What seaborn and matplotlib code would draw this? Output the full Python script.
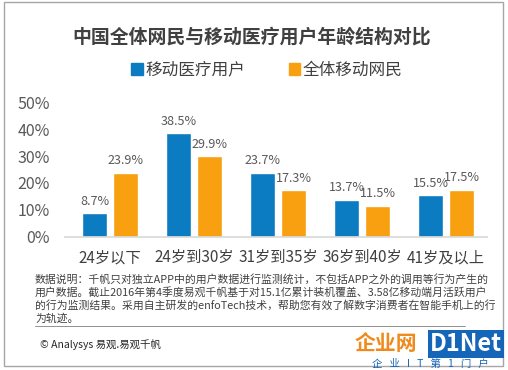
import matplotlib
matplotlib.use("Agg")
import matplotlib.pyplot as plt
from matplotlib.patches import Rectangle
from matplotlib.lines import Line2D
import seaborn as sns
import pandas as pd

# data
age_groups = ["24岁以下", "24岁到30岁", "31岁到35岁", "36岁到40岁", "41岁及以上"]
mobile_medical = [8.7, 38.5, 23.7, 13.7, 15.5]
all_mobile = [23.9, 29.9, 17.3, 11.5, 17.5]
series_names = ["移动医疗用户", "全体移动网民"]
y_ticks = [0, 10, 20, 30, 40, 50]

df = pd.DataFrame({
    "age": age_groups * 2,
    "value": mobile_medical + all_mobile,
    "series": [series_names[0]] * 5 + [series_names[1]] * 5,
})

sns.set_theme(style="white")
plt.rcParams["font.family"] = ["Noto Sans CJK SC", "DejaVu Sans"]

BLUE = "#0b7cc2"
ORANGE = "#f8a010"
TEXT = "#595959"

fig = plt.figure(figsize=(5.08, 3.70), dpi=100)
ax = fig.add_axes([65 / 508, 1 - 236.7 / 370, 422 / 508, 134.3 / 370])

sns.barplot(data=df, x="age", y="value", hue="series", order=age_groups,
            hue_order=series_names, palette=[BLUE, ORANGE],
            width=0.74, gap=0.22, saturation=1, ax=ax, legend=False)

for cont in ax.containers:
    ax.bar_label(cont, labels=[f"{v:.1f}%" for v in cont.datavalues],
                 padding=4, fontsize=9.1, color=TEXT)

ax.set_xlim(-0.536, 4.488)
ax.set_ylim(0, 50)
ax.set_yticks(y_ticks)
ax.set_yticklabels([f"{t}%" for t in y_ticks], fontsize=11.5, color=TEXT)
ax.tick_params(axis="x", labelsize=11, labelcolor="#404040", pad=9, length=0)
ax.tick_params(axis="y", pad=11, length=0)
ax.set_xlabel("")
ax.set_ylabel("")
for s in ["top", "right", "left"]:
    ax.spines[s].set_visible(False)
ax.spines["bottom"].set_color("#d9d9d9")

# title and legend
fig.text(252 / 508, 1 - 37 / 370, "中国全体网民与移动医疗用户年龄结构对比",
         ha="center", va="center", fontsize=13.6, fontweight="bold", color="#404040")
handles = [Rectangle((0, 0), 1, 1, color=BLUE), Rectangle((0, 0), 1, 1, color=ORANGE)]
fig.legend(handles, series_names, loc="center", bbox_to_anchor=(267 / 508, 1 - 70 / 370),
           ncol=2, frameon=False, fontsize=12, handlelength=0.7, handleheight=0.7,
           handletextpad=0.15, columnspacing=2.6, labelcolor="#404040")

# footnote
note = ("数据说明：千帆只对独立APP中的用户数据进行监测统计，不包括APP之外的调用等行为产生的\n"
        "用户数据。截止2016年第4季度易观千帆基于对15.1亿累计装机覆盖、3.58亿移动端月活跃用户\n"
        "的行为监测结果。采用自主研发的enfoTech技术，帮助您有效了解数字消费者在智能手机上的行\n"
        "为轨迹。")
fig.text(35 / 508, 1 - 274 / 370, note, ha="left", va="top", fontsize=7.8,
         color="#404040", linespacing=1.25)
fig.add_artist(Line2D([35 / 508, 465 / 508], [1 - 326 / 370, 1 - 326 / 370],
                      color="#808080", lw=0.6))
fig.text(40 / 508, 1 - 345 / 370, "© Analysys 易观.易观千帆", ha="left", va="center",
         fontsize=7.5, color="#262626")

# watermark logo at bottom right
fig.text(386 / 508, 1 - 344 / 370, "企业网", ha="center", va="center",
         fontsize=15, fontweight="bold", color="#f08a1c")
fig.text(466 / 508, 1 - 344 / 370, "D1Net", ha="center", va="center",
         fontsize=17, fontweight="bold", color="white",
         bbox=dict(boxstyle="square,pad=0.08", fc="#1565b8", ec="none"))
fig.text(430 / 508, 1 - 364 / 370, "企   业   I   T   第   1   门   户", ha="center",
         va="center", fontsize=7.5, color="#1565b8")

# frame around the picture
fig.add_artist(Rectangle((4 / 508, 1 - 366 / 370), 499 / 508, 364 / 370,
                         fill=False, ec="#a6a6a6", lw=1))

fig.savefig("out.png", dpi=100)
